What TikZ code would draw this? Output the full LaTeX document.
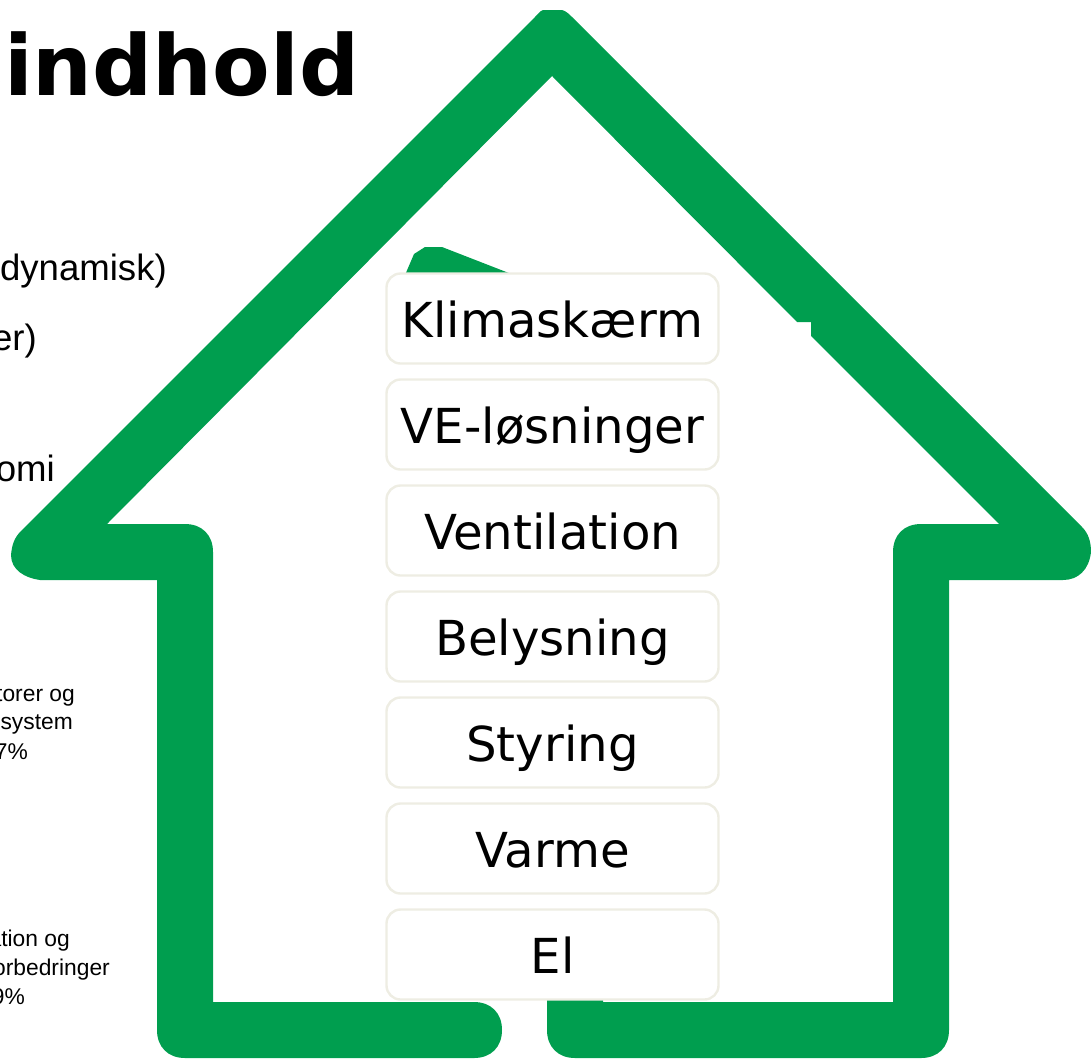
\documentclass[tikz,border=0pt]{standalone}
\usepackage{fontspec}
\setmainfont{Liberation Sans}
\newfontfamily\dvfont{DejaVu Sans}
\definecolor{housegreen}{HTML}{009E4F}
\definecolor{boxedge}{HTML}{EEEDE3}
\tikzset{
  x=1pt,y=-1pt,
  item/.style={draw=boxedge,line width=2.4pt,fill=white,rounded corners=14pt,minimum width=332pt,minimum height=90pt,inner sep=0pt,text height=48pt,text depth=10pt,font=\dvfont\fontsize{48.2}{48}\selectfont,text=black},
  bigside/.style={anchor=base east,inner sep=0pt,font=\fontsize{36.6}{36.6}\selectfont},
  smallside/.style={anchor=base east,inner sep=0pt,font=\fontsize{22.8}{22.8}\selectfont},
}
\begin{document}
\begin{tikzpicture}
\useasboundingbox (0,0) rectangle (1091,1058);
\fill[housegreen] (543,10) -- (562,10)
  .. controls (566,11) and (569,14) .. (572,17)
  -- (1082,527) .. controls (1088,533) and (1091,541) .. (1091,552)
  .. controls (1089,570) and (1078,580) .. (1063,580)
  -- (949,580) -- (949,1030)
  .. controls (949,1047) and (938,1058) .. (921,1058)
  -- (575,1058) .. controls (558,1058) and (547,1047) .. (547,1030)
  -- (547,1000) -- (603,1000) -- (603,1002) -- (893,1002) -- (893,552)
  .. controls (893,535) and (904,524) .. (921,524)
  -- (999,524) -- (811,336) -- (811,322) -- (797,322) -- (552,76)
  -- (107,524) -- (185,524)
  .. controls (202,524) and (213,535) .. (213,552)
  -- (213,1002) -- (474,1002)
  .. controls (491,1002) and (502,1013) .. (502,1030)
  .. controls (502,1047) and (491,1058) .. (474,1058)
  -- (185,1058) .. controls (168,1058) and (157,1047) .. (157,1030)
  -- (157,580) -- (40,580)
  .. controls (25,578) and (11,570) .. (11,555)
  .. controls (12,545) and (14,538) .. (21,531)
  -- (535,17) .. controls (538,14) and (540,11) .. (543,10) -- cycle;
\fill[housegreen] (405,275) -- (414,254) -- (425,247) -- (442,247) -- (514,275) -- cycle;
\node[item] (klima) at (552.5,318.5) {Klimaskærm};
\node[item] (ve) at (552.5,424.5) {VE-løsninger};
\node[item] (vent) at (552.5,530.5) {Ventilation};
\node[item] (bel) at (552.5,636.5) {Belysning};
\node[item] (sty) at (552.5,742.5) {Styring};
\node[item] (var) at (552.5,848.5) {Varme};
\node[item] (el) at (552.5,954.5) {El};
\node[anchor=base east,inner sep=0pt,font=\dvfont\bfseries\fontsize{84}{84}\selectfont] (title) at (359.5,95) {sindhold};
\node[bigside] (t1) at (167,280) {dynamisk)};
\node[bigside] (t2) at (37,350) {er)};
\node[bigside] (t3) at (55,481) {omi};
\node[smallside] (s1) at (75,701) {torer og};
\node[smallside] (s2) at (73,729) {system};
\node[smallside] (s3) at (28,759) {7\%};
\node[smallside] (s4) at (70,946) {ation og};
\node[smallside] (s5) at (110,975) {orbedringer};
\node[smallside] (s6) at (25,1004) {9\%};
\end{tikzpicture}
\end{document}
